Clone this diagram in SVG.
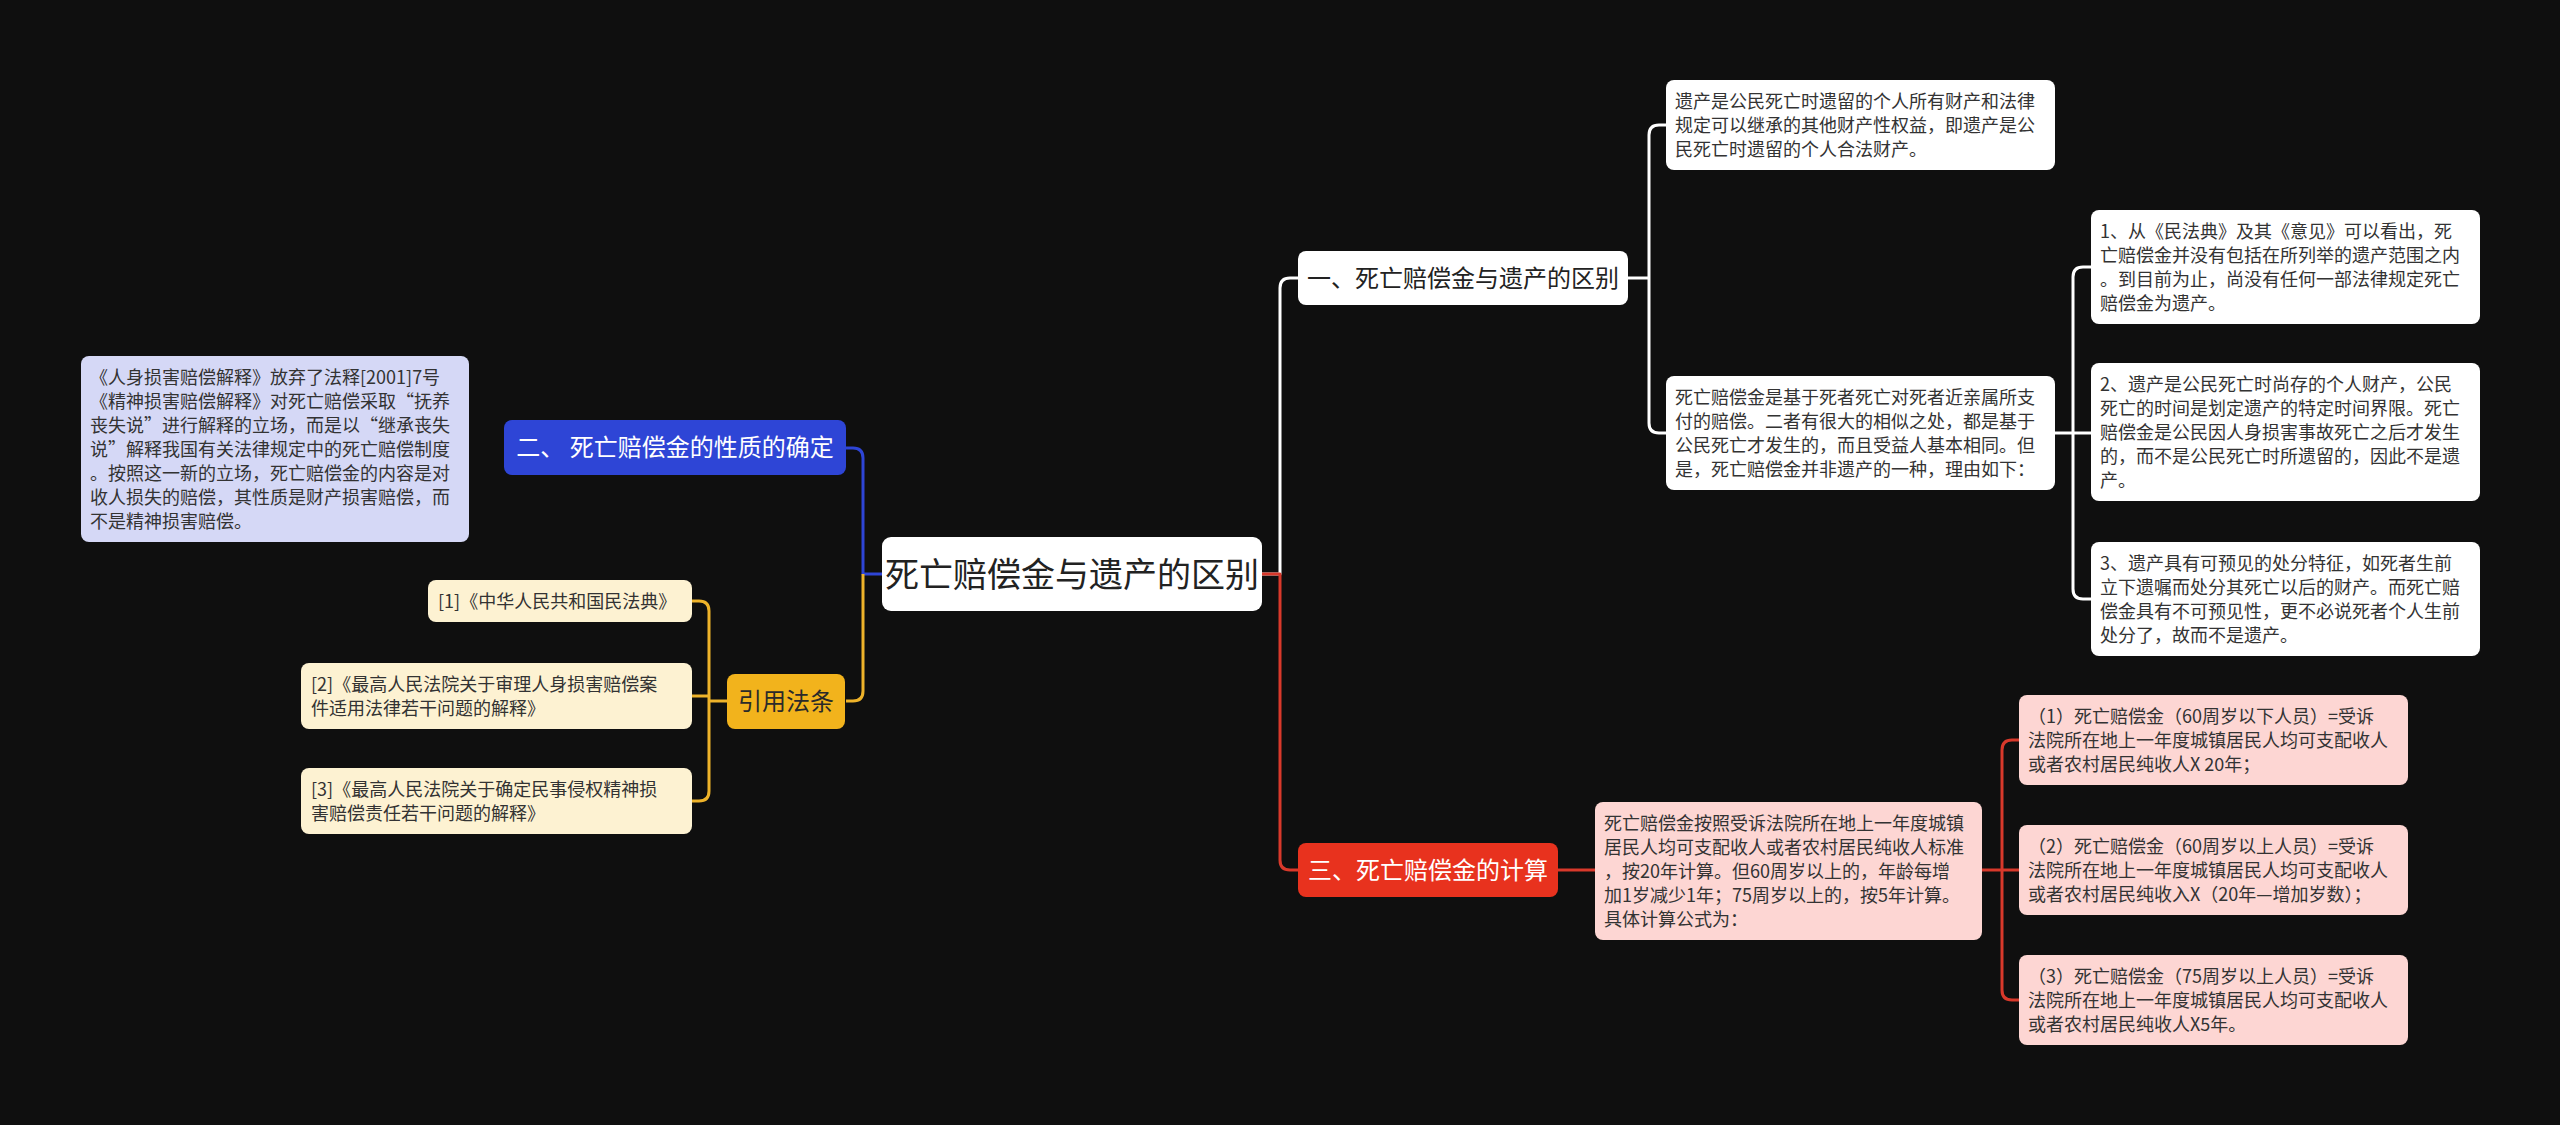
<svg xmlns="http://www.w3.org/2000/svg" width="2560" height="1125" viewBox="0 0 2560 1125">
<style>
text{font-family:"Noto Sans CJK SC","Noto Sans",sans-serif;}
.d{font-size:18px;fill:#333333;}
.m{font-size:24px;}
.c{text-anchor:middle;}
.ln{fill:none;stroke-width:3;stroke-linejoin:round;}
</style>
<rect width="2560" height="1125" fill="#0f0f0f"/>
<g id="connectors">
<path class="ln" stroke="#2e45d6" d="M846 448 H853 Q863 448 863 458 V574 H882"/>
<path class="ln" stroke="#eeb32a" d="M846 701 H853 Q863 701 863 691 V574"/>
<path class="ln" stroke="#eeb32a" d="M727 701 H709 M692 601 H699 Q709 601 709 611 V791 Q709 801 699 801 H692 M692 696 H709"/>
<path class="ln" stroke="#ffffff" d="M1262 574 H1280 V288 Q1280 278 1290 278 H1298"/>
<path class="ln" stroke="#d8392b" d="M1262 574 H1280 V860 Q1280 870 1290 870 H1298"/>
<path class="ln" stroke="#ffffff" d="M1628 278 H1649 M1666 125 H1659 Q1649 125 1649 135 V423 Q1649 433 1659 433 H1666"/>
<path class="ln" stroke="#ffffff" d="M2055 433 H2091 M2091 267 H2083 Q2073 267 2073 277 V589 Q2073 599 2083 599 H2091"/>
<path class="ln" stroke="#d8392b" d="M1558 870 H1595"/>
<path class="ln" stroke="#d8392b" d="M1982 870 H2019 M2019 740 H2012 Q2002 740 2002 750 V990 Q2002 1000 2012 1000 H2019"/>
</g>
<g id="root">
<rect x="882" y="537" width="380" height="74" rx="9" fill="#ffffff"/>
<text class="c" x="1072" y="587" font-size="34" fill="#222222">死亡赔偿金与遗产的区别</text>
</g>
<g id="n2">
<rect x="504" y="420" width="342" height="55" rx="8" fill="#2e45d6"/>
<text class="m c" x="675" y="456" fill="#ffffff">二、 死亡赔偿金的性质的确定</text>
</g>
<g id="n2-desc">
<rect x="81" y="356" width="388" height="186" rx="8" fill="#d5d8f6"/>
<text class="d"><tspan x="90" y="384">《人身损害赔偿解释》放弃了法释[2001]7号</tspan><tspan x="90" y="408">《精神损害赔偿解释》对死亡赔偿采取“抚养</tspan><tspan x="90" y="432">丧失说”进行解释的立场，而是以“继承丧失</tspan><tspan x="90" y="456">说”解释我国有关法律规定中的死亡赔偿制度</tspan><tspan x="90" y="480">。按照这一新的立场，死亡赔偿金的内容是对</tspan><tspan x="90" y="504">收人损失的赔偿，其性质是财产损害赔偿，而</tspan><tspan x="90" y="528">不是精神损害赔偿。</tspan></text>
</g>
<g id="cite">
<rect x="727" y="674" width="118" height="55" rx="8" fill="#f2b31c"/>
<text class="m c" x="786" y="710" fill="#2a2a2a">引用法条</text>
</g>
<g id="cite1">
<rect x="428" y="580" width="264" height="42" rx="8" fill="#fdf2d2"/>
<text class="d" x="438" y="608">[1]《中华人民共和国民法典》</text>
</g>
<g id="cite2">
<rect x="301" y="663" width="391" height="66" rx="8" fill="#fdf2d2"/>
<text class="d"><tspan x="311" y="691">[2]《最高人民法院关于审理人身损害赔偿案</tspan><tspan x="311" y="715">件适用法律若干问题的解释》</tspan></text>
</g>
<g id="cite3">
<rect x="301" y="768" width="391" height="66" rx="8" fill="#fdf2d2"/>
<text class="d"><tspan x="311" y="796">[3]《最高人民法院关于确定民事侵权精神损</tspan><tspan x="311" y="820">害赔偿责任若干问题的解释》</tspan></text>
</g>
<g id="n1">
<rect x="1298" y="251" width="330" height="54" rx="8" fill="#ffffff"/>
<text class="m c" x="1463" y="287" fill="#222222">一、死亡赔偿金与遗产的区别</text>
</g>
<g id="n1a">
<rect x="1666" y="80" width="389" height="90" rx="8" fill="#ffffff"/>
<text class="d"><tspan x="1675" y="108">遗产是公民死亡时遗留的个人所有财产和法律</tspan><tspan x="1675" y="132">规定可以继承的其他财产性权益，即遗产是公</tspan><tspan x="1675" y="156">民死亡时遗留的个人合法财产。</tspan></text>
</g>
<g id="n1b">
<rect x="1666" y="376" width="389" height="114" rx="8" fill="#ffffff"/>
<text class="d"><tspan x="1675" y="404">死亡赔偿金是基于死者死亡对死者近亲属所支</tspan><tspan x="1675" y="428">付的赔偿。二者有很大的相似之处，都是基于</tspan><tspan x="1675" y="452">公民死亡才发生的，而且受益人基本相同。但</tspan><tspan x="1675" y="476">是，死亡赔偿金并非遗产的一种，理由如下：</tspan></text>
</g>
<g id="n1b1">
<rect x="2091" y="210" width="389" height="114" rx="8" fill="#ffffff"/>
<text class="d"><tspan x="2100" y="238">1、从《民法典》及其《意见》可以看出，死</tspan><tspan x="2100" y="262">亡赔偿金并没有包括在所列举的遗产范围之内</tspan><tspan x="2100" y="286">。到目前为止，尚没有任何一部法律规定死亡</tspan><tspan x="2100" y="310">赔偿金为遗产。</tspan></text>
</g>
<g id="n1b2">
<rect x="2091" y="363" width="389" height="138" rx="8" fill="#ffffff"/>
<text class="d"><tspan x="2100" y="391">2、遗产是公民死亡时尚存的个人财产，公民</tspan><tspan x="2100" y="415">死亡的时间是划定遗产的特定时间界限。死亡</tspan><tspan x="2100" y="439">赔偿金是公民因人身损害事故死亡之后才发生</tspan><tspan x="2100" y="463">的，而不是公民死亡时所遗留的，因此不是遗</tspan><tspan x="2100" y="487">产。</tspan></text>
</g>
<g id="n1b3">
<rect x="2091" y="542" width="389" height="114" rx="8" fill="#ffffff"/>
<text class="d"><tspan x="2100" y="570">3、遗产具有可预见的处分特征，如死者生前</tspan><tspan x="2100" y="594">立下遗嘱而处分其死亡以后的财产。而死亡赔</tspan><tspan x="2100" y="618">偿金具有不可预见性，更不必说死者个人生前</tspan><tspan x="2100" y="642">处分了，故而不是遗产。</tspan></text>
</g>
<g id="n3">
<rect x="1298" y="843" width="260" height="54" rx="8" fill="#e8321e"/>
<text class="m c" x="1428" y="879" fill="#ffffff">三、死亡赔偿金的计算</text>
</g>
<g id="n3d">
<rect x="1595" y="802" width="387" height="138" rx="8" fill="#fdd6d3"/>
<text class="d"><tspan x="1604" y="830">死亡赔偿金按照受诉法院所在地上一年度城镇</tspan><tspan x="1604" y="854">居民人均可支配收人或者农村居民纯收人标准</tspan><tspan x="1604" y="878">，按20年计算。但60周岁以上的，年龄每增</tspan><tspan x="1604" y="902">加1岁减少1年；75周岁以上的，按5年计算。</tspan><tspan x="1604" y="926">具体计算公式为：</tspan></text>
</g>
<g id="n3e1">
<rect x="2019" y="695" width="389" height="90" rx="8" fill="#fdd6d3"/>
<text class="d"><tspan x="2028" y="723">（1）死亡赔偿金（60周岁以下人员）=受诉</tspan><tspan x="2028" y="747">法院所在地上一年度城镇居民人均可支配收人</tspan><tspan x="2028" y="771">或者农村居民纯收人X 20年；</tspan></text>
</g>
<g id="n3e2">
<rect x="2019" y="825" width="389" height="90" rx="8" fill="#fdd6d3"/>
<text class="d"><tspan x="2028" y="853">（2）死亡赔偿金（60周岁以上人员）=受诉</tspan><tspan x="2028" y="877">法院所在地上一年度城镇居民人均可支配收人</tspan><tspan x="2028" y="901">或者农村居民纯收入X（20年—增加岁数）；</tspan></text>
</g>
<g id="n3e3">
<rect x="2019" y="955" width="389" height="90" rx="8" fill="#fdd6d3"/>
<text class="d"><tspan x="2028" y="983">（3）死亡赔偿金（75周岁以上人员）=受诉</tspan><tspan x="2028" y="1007">法院所在地上一年度城镇居民人均可支配收人</tspan><tspan x="2028" y="1031">或者农村居民纯收人X5年。</tspan></text>
</g>
</svg>
